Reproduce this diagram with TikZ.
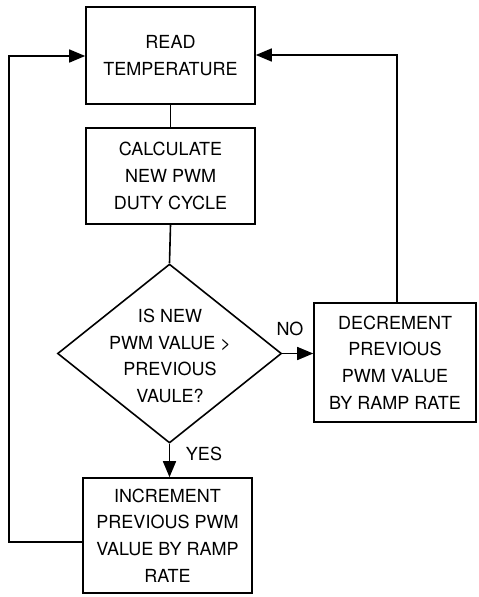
\documentclass[tikz,border=0pt]{standalone}
\usepackage{fontspec}
\setmainfont{TeX Gyre Heros}
\usetikzlibrary{shapes.geometric,arrows.meta}
\begin{document}
\begin{tikzpicture}[x=1pt,y=-1pt,
  every node/.style={font=\fontsize{18}{26.7}\selectfont},
  box/.style={draw,line width=1.6pt,rectangle,inner sep=0pt,align=center},
  dia/.style={draw,line width=1.6pt,diamond,inner sep=0pt,minimum width=224pt,minimum height=179pt},
  txt/.style={align=center,inner sep=0pt},
  conn/.style={line width=1.6pt},
  arr/.style={line width=1.6pt,-{Triangle[length=16pt,width=13pt]}}]
\useasboundingbox (0,0) rectangle (479,597);
\node[box,minimum width=169pt,minimum height=97pt] (read) at (170.5,55.5) {READ\\TEMPERATURE};
\node[box,minimum width=169pt,minimum height=96pt] (calc) at (170.5,176) {CALCULATE\\NEW PWM\\DUTY CYCLE};
\node[dia] (dec) at (169.5,353.5) {};
\node[txt] (dectxt) at (170,356) {IS NEW\\PWM VALUE >\\PREVIOUS\\VAULE?};
\node[box,minimum width=162pt,minimum height=119pt] (decr) at (395,362.5) {DECREMENT\\PREVIOUS\\PWM VALUE\\BY RAMP RATE};
\node[box,minimum width=169pt,minimum height=115pt] (incr) at (167.5,535.5) {INCREMENT\\PREVIOUS PWM\\VALUE BY RAMP\\RATE};
\node[txt] (no) at (290,329) {NO};
\node[txt] (yes) at (204,454) {YES};
\coordinate (lt) at (9,542);
\coordinate (lb) at (9,56);
\coordinate (rt) at (397,303);
\coordinate (rb) at (397,55);
\draw[conn] (read.south) -- (calc.north);
\draw[conn] (calc.south) -- (dec.north);
\draw[arr] (dec.east) -- (decr.west |- dec.east);
\draw[arr] (dec.south) -- (incr.north -| dec.south);
\draw[arr] (incr.west |- lt) -- (lt) -- (lb) -- (read.west |- lb);
\draw[arr] (rt) -- (rb) -- (read.east |- rb);
\end{tikzpicture}
\end{document}
